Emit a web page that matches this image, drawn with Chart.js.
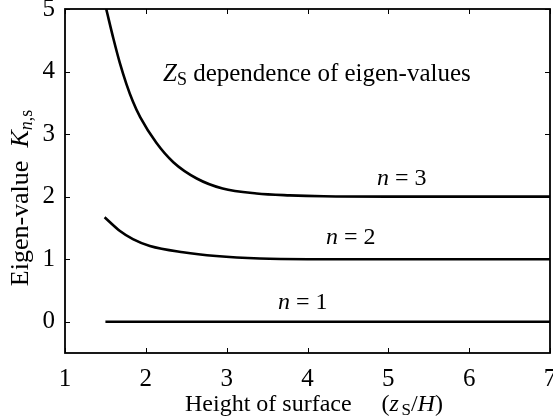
<!DOCTYPE html>
<html>
<head>
<meta charset="utf-8">
<script src="https://cdn.jsdelivr.net/npm/chart.js@4"></script>
<style>
  html, body { margin: 0; padding: 0; background: #fff; }
  #wrap { width: 553px; height: 419px; position: relative; }
</style>
</head>
<body>
<div id="wrap"><canvas id="chart"></canvas></div>
<script>
// values
const xTicks = [1, 2, 3, 4, 5, 6, 7];
const yTicks = [0, 1, 2, 3, 4, 5];

const n3X = [1.51, 1.6, 1.68, 1.76, 1.84, 1.93, 2.13, 2.34, 2.63, 2.95, 3.37, 3.78, 4.2, 5, 6, 7];
const n3Y = [5.0, 4.52, 4.13, 3.8, 3.52, 3.27, 2.86, 2.55, 2.29, 2.13, 2.05, 2.02, 2.005, 2.0, 2.0, 2.0];

const n2X = [1.49, 1.68, 1.84, 2.05, 2.46, 2.87, 3.41, 4, 5, 6, 7];
const n2Y = [1.67, 1.45, 1.32, 1.21, 1.11, 1.05, 1.01, 1.0, 1.0, 1.0, 1.0];

const n1X = [1.5, 7];
const n1Y = [0, 0];

const SERIF = '"Liberation Serif", "Times New Roman", serif';

function pts(xs, ys) {
    return xs.map((x, i) => ({ x: x, y: ys[i] }));
}

function curve(xs, ys) {
    return {
        data: pts(xs, ys),
        borderColor: '#000',
        borderWidth: 2.6,
        pointRadius: 0,
        cubicInterpolationMode: 'monotone',
        fill: false
    };
}

// draws a run of mixed text pieces: [text, italic, size, dy]
function drawRuns(ctx, runs, x, y) {
    let cx = x;
    runs.forEach(r => {
        ctx.font = (r[1] ? 'italic ' : '') + r[2] + 'px ' + SERIF;
        ctx.fillText(r[0], cx, y + (r[3] || 0));
        cx += ctx.measureText(r[0]).width;
    });
    return cx - x;
}

function runsWidth(ctx, runs) {
    let w = 0;
    runs.forEach(r => {
        ctx.font = (r[1] ? 'italic ' : '') + r[2] + 'px ' + SERIF;
        w += ctx.measureText(r[0]).width;
    });
    return w;
}

const framePlugin = {
    id: 'frame',
    afterDatasetsDraw(chart) {
        const ctx = chart.ctx;
        const a = chart.chartArea;
        const xs = chart.scales.x, ys = chart.scales.y;
        ctx.save();
        ctx.strokeStyle = '#000';
        ctx.lineWidth = 1.8;
        ctx.strokeRect(a.left, a.top, a.right - a.left, a.bottom - a.top);
        ctx.lineWidth = 1;
        const tl = 5;
        xTicks.forEach(v => {
            const px = Math.round(xs.getPixelForValue(v)) + 0.5;
            ctx.beginPath();
            ctx.moveTo(px, a.bottom); ctx.lineTo(px, a.bottom - tl);
            ctx.moveTo(px, a.top); ctx.lineTo(px, a.top + tl);
            ctx.stroke();
        });
        yTicks.forEach(v => {
            const py = Math.round(ys.getPixelForValue(v)) + 0.5;
            ctx.beginPath();
            ctx.moveTo(a.left, py); ctx.lineTo(a.left + tl, py);
            ctx.moveTo(a.right, py); ctx.lineTo(a.right - tl, py);
            ctx.stroke();
        });

        ctx.fillStyle = '#000';
        ctx.textBaseline = 'alphabetic';
        ctx.textAlign = 'left';

        // annotations
        drawRuns(ctx, [['Z', true, 25], ['S', false, 18, 4], [' dependence of eigen-values', false, 25]], 163, 81);
        drawRuns(ctx, [['n', true, 24], [' = 3', false, 24]], 377, 185);
        drawRuns(ctx, [['n', true, 24], [' = 2', false, 24]], 326, 244);
        drawRuns(ctx, [['n', true, 24], [' = 1', false, 24]], 278, 309);

        // x axis title
        const xt = [['Height of surface     (', false, 24], ['z', true, 24], [' ', false, 10], ['S', false, 17, 4], ['/', false, 24], ['H', true, 24], [')', false, 24]];
        drawRuns(ctx, xt, 185, 411);

        // y axis title
        const yt = [['Eigen-value  ', false, 26], ['K', true, 26], ['n', true, 18, 4], [',s', false, 18, 4]];
        const w = runsWidth(ctx, yt);
        ctx.translate(28, 198);
        ctx.rotate(-Math.PI / 2);
        drawRuns(ctx, yt, -w / 2, 0);
        ctx.restore();
    }
};

function noPad(s) {
    s.paddingLeft = 0; s.paddingRight = 0; s.paddingTop = 0; s.paddingBottom = 0;
}

new Chart(document.getElementById('chart'), {
    type: 'line',
    data: {
        datasets: [curve(n3X, n3Y), curve(n2X, n2Y), curve(n1X, n1Y)]
    },
    options: {
        responsive: true,
        maintainAspectRatio: false,
        animation: false,
        layout: { padding: { top: 9, right: 3, left: 0, bottom: 0 } },
        plugins: {
            legend: { display: false },
            tooltip: { enabled: false }
        },
        scales: {
            x: {
                type: 'linear',
                min: 1,
                max: 7,
                afterBuildTicks: s => { s.ticks = xTicks.map(v => ({ value: v })); },
                afterFit: s => { s.height = 66; noPad(s); },
                grid: { display: false, drawTicks: false },
                border: { display: false },
                ticks: {
                    padding: 11,
                    color: '#000',
                    font: { family: SERIF, size: 25 }
                }
            },
            y: {
                type: 'linear',
                min: -0.5,
                max: 5,
                afterBuildTicks: s => { s.ticks = yTicks.map(v => ({ value: v })); },
                afterFit: s => { s.width = 65; noPad(s); },
                grid: { display: false, drawTicks: false },
                border: { display: false },
                ticks: {
                    padding: 10,
                    color: '#000',
                    font: { family: SERIF, size: 25 }
                }
            }
        }
    },
    plugins: [framePlugin]
});
</script>
</body>
</html>
